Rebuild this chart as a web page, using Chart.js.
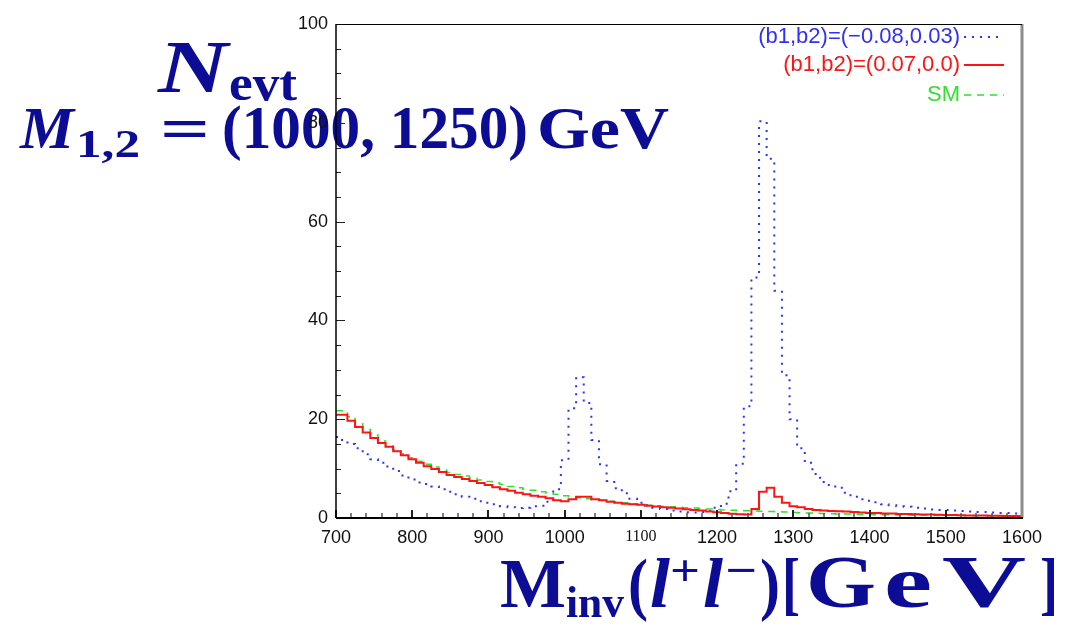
<!DOCTYPE html>
<html>
<head>
<meta charset="utf-8">
<script src="https://cdn.jsdelivr.net/npm/chart.js@4.4.1/dist/chart.umd.min.js"></script>
<style>
  html, body { margin: 0; padding: 0; background: #fff; }
  canvas { display: block; }
</style>
</head>
<body>
<canvas id="chartContainer" width="1070" height="626"></canvas>
<script>
// 10 GeV bins, centre of each bin (GeV)
var binCentres = [700, 710, 720, 730, 740, 750, 760, 770, 780, 790,
  800, 810, 820, 830, 840, 850, 860, 870, 880, 890,
  900, 910, 920, 930, 940, 950, 960, 970, 980, 990,
  1000, 1010, 1020, 1030, 1040, 1050, 1060, 1070, 1080, 1090,
  1100, 1110, 1120, 1130, 1140, 1150, 1160, 1170, 1180, 1190,
  1200, 1210, 1220, 1230, 1240, 1250, 1260, 1270, 1280, 1290,
  1300, 1310, 1320, 1330, 1340, 1350, 1360, 1370, 1380, 1390,
  1400, 1410, 1420, 1430, 1440, 1450, 1460, 1470, 1480, 1490,
  1500, 1510, 1520, 1530, 1540, 1550, 1560, 1570, 1580, 1590, 1600];

// (b1,b2)=(-0.08,0.03)
var blueVals = [16.4, 15.8, 15.0, 14.1, 12.9, 11.9, 11.2, 10.4, 9.5, 8.6,
  7.8, 7.2, 6.9, 6.4, 5.8, 5.3, 4.8, 4.3, 3.9, 3.4,
  3.1, 2.8, 2.4, 2.2, 2.0, 2.1, 2.4, 2.5, 3.3, 5.8,
  11.7, 22.2, 28.5, 23.3, 15.8, 10.9, 7.5, 6.0, 5.0, 3.9,
  3.1, 2.6, 2.1, 1.8, 1.5, 1.3, 1.15, 1.1, 1.2, 1.4,
  2.1, 2.9, 5.4, 11.0, 22.6, 48.7, 80.3, 72.7, 46.0, 28.9,
  20.0, 14.1, 11.2, 8.9, 7.3, 6.7, 6.1, 5.1, 4.3, 3.8,
  3.5, 3.2, 2.8, 2.6, 2.4, 2.3, 2.1, 1.9, 1.7, 1.6,
  1.6, 1.5, 1.4, 1.3, 1.2, 1.2, 1.1, 1.0, 1.0, 0.9, 0.9];

// (b1,b2)=(0.07,0.0)
var redVals = [20.9, 20.9, 19.7, 18.4, 17.3, 16.2, 15.2, 14.4, 13.5, 12.7,
  11.9, 11.2, 10.5, 9.9, 9.3, 8.7, 8.3, 7.9, 7.5, 7.1,
  6.7, 6.2, 5.8, 5.5, 5.1, 4.8, 4.5, 4.3, 4.0, 3.6,
  3.4, 3.8, 4.3, 4.3, 3.8, 3.6, 3.3, 3.1, 2.9, 2.8,
  2.7, 2.5, 2.35, 2.2, 2.05, 1.9, 1.75, 1.6, 1.5, 1.3,
  1.15, 1.0, 0.85, 0.75, 0.7, 1.8, 5.3, 6.1, 4.3, 3.1,
  2.4, 2.2, 1.8, 1.6, 1.5, 1.4, 1.35, 1.3, 1.2, 1.1,
  1.0, 1.0, 0.9, 0.9, 0.8, 0.8, 0.75, 0.7, 0.7, 0.65,
  0.6, 0.6, 0.55, 0.5, 0.5, 0.5, 0.45, 0.45, 0.4, 0.4, 0.4];

// SM
var greenVals = [21.7, 21.7, 20.5, 19.1, 17.9, 16.8, 15.6, 14.6, 13.8, 13.0,
  12.2, 11.5, 10.9, 10.3, 9.7, 9.2, 8.8, 8.5, 8.1, 7.7,
  7.4, 7.1, 6.8, 6.4, 6.1, 5.8, 5.6, 5.3, 5.1, 4.8,
  4.5, 4.3, 4.1, 3.9, 3.7, 3.6, 3.4, 3.3, 3.1, 2.9,
  2.75, 2.6, 2.5, 2.4, 2.3, 2.2, 2.1, 2.0, 1.9, 1.8,
  1.7, 1.6, 1.55, 1.5, 1.45, 1.4, 1.35, 1.3, 1.25, 1.2,
  1.1, 1.05, 1.0, 0.95, 0.9, 0.85, 0.8, 0.8, 0.75, 0.7,
  0.7, 0.65, 0.65, 0.6, 0.6, 0.6, 0.55, 0.55, 0.55, 0.5,
  0.5, 0.5, 0.5, 0.45, 0.45, 0.45, 0.45, 0.4, 0.4, 0.4, 0.4];

var xTickLabels = [700, 800, 900, 1000, 1100, 1200, 1300, 1400, 1500, 1600];
var yTickLabels = [0, 20, 40, 60, 80, 100];
var seriesNames = ['(b1,b2)=(\u22120.08,0.03)', '(b1,b2)=(0.07,0.0)', 'SM'];

var BLUE = '#2f2fff', RED = '#ff1414', GREEN = '#30e030', NAVY = '#0c0c94';

function toPoints(vals) {
  return binCentres.map(function (x, i) { return { x: x, y: vals[i] }; });
}

// draw a piece of text squeezed/stretched to a given width
function drawFit(ctx, text, font, x, y, w) {
  ctx.font = font;
  var m = ctx.measureText(text).width;
  ctx.save();
  ctx.translate(x, y);
  ctx.scale(w / m, 1);
  ctx.fillText(text, 0, 0);
  ctx.restore();
}

var titlePlugin = {
  id: 'titles',
  beforeDraw: function (chart) {
    var ctx = chart.ctx;
    ctx.save();
    ctx.fillStyle = NAVY;
    ctx.textBaseline = 'alphabetic';
    ctx.textAlign = 'left';
    var bi = 'italic bold ', b = 'bold ', fam = 'px "Liberation Serif"';
    // N_evt
    drawFit(ctx, 'N', bi + '74' + fam, 158, 92, 70);
    drawFit(ctx, 'evt', b + '50' + fam, 229, 100, 68);
    // M_{1,2} = (1000, 1250) GeV
    drawFit(ctx, 'M', bi + '60' + fam, 20, 148, 54);
    drawFit(ctx, '1,2', b + '40' + fam, 76, 157, 64);
    drawFit(ctx, '=', b + '60' + fam, 160, 148, 50);
    drawFit(ctx, '(1000, 1250)', b + '62' + fam, 222, 148, 306);
    drawFit(ctx, 'GeV', b + '60' + fam, 537, 148, 132);
    // M_inv(l+l-)[ GeV]
    drawFit(ctx, 'M', b + '70' + fam, 500, 607, 66);
    drawFit(ctx, 'inv', b + '44' + fam, 566, 617, 58);
    drawFit(ctx, '(', b + '70' + fam, 628, 607, 20);
    drawFit(ctx, 'l', bi + '70' + fam, 650, 607, 20);
    drawFit(ctx, '+', b + '44' + fam, 670, 585, 30);
    drawFit(ctx, 'l', bi + '70' + fam, 703, 607, 20);
    drawFit(ctx, '\u2212', b + '44' + fam, 725, 585, 32);
    drawFit(ctx, ')', b + '70' + fam, 760, 607, 20);
    drawFit(ctx, '[', b + '70' + fam, 782, 607, 18);
    drawFit(ctx, 'G', b + '74' + fam, 806, 607, 70);
    drawFit(ctx, 'e', b + '74' + fam, 884, 607, 48);
    drawFit(ctx, 'V', b + '74' + fam, 942, 607, 84);
    drawFit(ctx, ']', b + '70' + fam, 1040, 607, 18);
    ctx.restore();
  }
};

var framePlugin = {
  id: 'frame',
  afterDatasetsDraw: function (chart) {
    var ctx = chart.ctx, a = chart.chartArea;
    var xs = chart.scales.x, ys = chart.scales.y;
    ctx.save();
    ctx.lineCap = 'butt';
    // inward ticks on the bottom axis
    for (var v = 700; v <= 1600; v += 20) {
      var px = Math.round(xs.getPixelForValue(v));
      var major = v % 100 === 0;
      ctx.strokeStyle = major ? '#222' : '#555';
      ctx.lineWidth = major ? 2 : 1.5;
      ctx.beginPath();
      ctx.moveTo(px, a.bottom);
      ctx.lineTo(px, a.bottom - (major ? 8 : 5));
      ctx.stroke();
    }
    // inward ticks on the left axis
    for (var w = 0; w <= 100; w += 5) {
      var py = Math.round(ys.getPixelForValue(w)) + 0.5;
      var maj = w % 20 === 0;
      ctx.strokeStyle = '#222';
      ctx.lineWidth = 1;
      ctx.beginPath();
      ctx.moveTo(a.left, py);
      ctx.lineTo(a.left + (maj ? 9 : 5), py);
      ctx.stroke();
    }
    // frame
    ctx.strokeStyle = '#8c8c8c';
    ctx.lineWidth = 3;
    ctx.beginPath();
    ctx.moveTo(a.right, a.top);
    ctx.lineTo(a.right, a.bottom);
    ctx.stroke();
    ctx.strokeStyle = '#000';
    ctx.lineWidth = 1;
    ctx.beginPath();
    ctx.moveTo(a.left, a.top + 0.5);
    ctx.lineTo(a.right, a.top + 0.5);
    ctx.stroke();
    ctx.lineWidth = 1.5;
    ctx.beginPath();
    ctx.moveTo(a.left, a.top);
    ctx.lineTo(a.left, a.bottom);
    ctx.stroke();
    ctx.lineWidth = 2;
    ctx.beginPath();
    ctx.moveTo(a.left, a.bottom);
    ctx.lineTo(a.right + 1, a.bottom);
    ctx.stroke();
    ctx.restore();
  }
};

var legendPlugin = {
  id: 'keyBox',
  afterDraw: function (chart) {
    var ctx = chart.ctx;
    var rows = [
      { y: 37, color: BLUE, dash: [2, 6], width: 2 },
      { y: 65, color: RED, dash: [], width: 2 },
      { y: 95, color: GREEN, dash: [7, 6], width: 1.5 }
    ];
    ctx.save();
    ctx.font = '22px "Liberation Sans"';
    ctx.textAlign = 'right';
    ctx.textBaseline = 'middle';
    rows.forEach(function (r, i) {
      ctx.fillStyle = r.color;
      ctx.fillText(seriesNames[i], 960, r.y);
      ctx.strokeStyle = r.color;
      ctx.lineWidth = r.width;
      ctx.setLineDash(r.dash);
      ctx.beginPath();
      ctx.moveTo(964, r.y);
      ctx.lineTo(1004, r.y);
      ctx.stroke();
    });
    ctx.restore();
  }
};

var ctx = document.getElementById('chartContainer').getContext('2d');
var myChart = new Chart(ctx, {
  type: 'line',
  data: {
    datasets: [{
      label: seriesNames[0],
      data: toPoints(blueVals),
      borderColor: BLUE,
      borderWidth: 2,
      borderDash: [2, 6],
      stepped: 'middle',
      pointRadius: 0,
      order: 1
    }, {
      label: seriesNames[1],
      data: toPoints(redVals),
      borderColor: RED,
      borderWidth: 2,
      stepped: 'middle',
      pointRadius: 0,
      order: 0
    }, {
      label: seriesNames[2],
      data: toPoints(greenVals),
      borderColor: GREEN,
      borderWidth: 1.5,
      borderDash: [7, 6],
      stepped: 'middle',
      pointRadius: 0,
      order: 2
    }]
  },
  options: {
    responsive: false,
    devicePixelRatio: 1,
    animation: false,
    events: [],
    layout: { padding: { top: 24, right: 48, left: 0, bottom: 0 } },
    plugins: { legend: { display: false }, tooltip: { enabled: false } },
    scales: {
      x: {
        type: 'linear',
        min: 700,
        max: 1600,
        afterBuildTicks: function (s) { s.ticks = xTickLabels.map(function (v) { return { value: v }; }); },
        afterFit: function (s) { s.height = 108; },
        grid: { display: false, drawTicks: false },
        border: { display: false },
        ticks: {
          padding: 9,
          color: '#111',
          maxRotation: 0,
          autoSkip: false,
          callback: function (v) { return String(v); },
          font: function (c) {
            if (c.tick && c.tick.value === 1100) return { family: '"Liberation Serif"', size: 16 };
            return { family: '"Liberation Sans"', size: 18 };
          }
        }
      },
      y: {
        min: 0,
        max: 100,
        afterBuildTicks: function (s) { s.ticks = yTickLabels.map(function (v) { return { value: v }; }); },
        afterFit: function (s) { s.width = 336; },
        grid: { display: false, drawTicks: false },
        border: { display: false },
        ticks: {
          padding: 8,
          color: '#111',
          callback: function (v) { return String(v); },
          font: { family: '"Liberation Sans"', size: 18 }
        }
      }
    }
  },
  plugins: [titlePlugin, framePlugin, legendPlugin]
});
</script>
</body>
</html>
